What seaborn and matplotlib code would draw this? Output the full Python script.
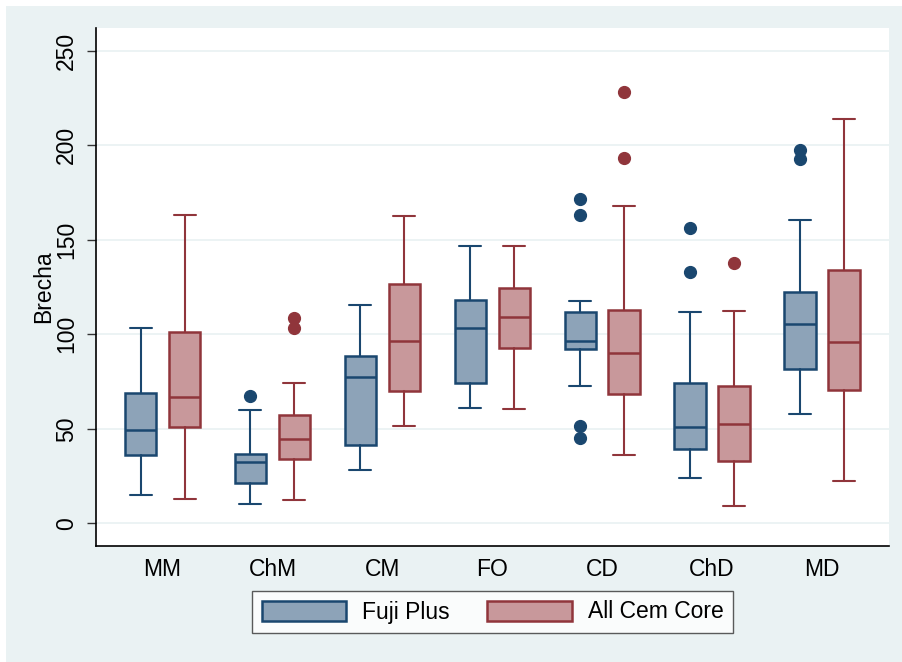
import matplotlib
matplotlib.use("Agg")
import matplotlib.pyplot as plt
import matplotlib.patches as mpatches
import seaborn as sns
import numpy as np

categories = ["MM", "ChM", "CM", "FO", "CD", "ChD", "MD"]
series_names = ["Fuji Plus", "All Cem Core"]

fuji_lo = [14.9, 10.3, 28.3, 60.9, 72.9, 24.1, 57.6]
fuji_q1 = [36.1, 21.3, 41.7, 74.5, 92.3, 39.4, 81.4]
fuji_med = [49.5, 32.2, 77.2, 103.6, 96.7, 51.1, 105.4]
fuji_q3 = [68.7, 36.8, 88.8, 118.4, 111.9, 74.3, 122.5]
fuji_hi = [103.6, 59.9, 115.4, 146.8, 117.4, 111.9, 160.7]
fuji_out = [[], [67.5], [], [], [171.5, 163.2, 51.6, 45.4], [156.3, 133.1], [197.3, 192.7]]

acc_lo = [12.8, 12.1, 51.4, 60.4, 35.9, 9.1, 22.3]
acc_q1 = [51.1, 34.1, 70.1, 93.0, 68.4, 32.9, 70.8]
acc_med = [66.8, 44.4, 96.4, 109.3, 90.1, 52.6, 96.2]
acc_q3 = [101.3, 57.4, 126.7, 124.6, 113.1, 72.9, 134.0]
acc_hi = [163.2, 74.0, 162.5, 147.0, 168.0, 112.6, 213.9]
acc_out = [[], [108.6, 103.3], [], [], [228.1, 193.5], [138.0], []]

y_ticks = [0, 50, 100, 150, 200, 250]

sns.set_theme(style="white")
plt.rcParams["font.family"] = ["Liberation Sans", "DejaVu Sans"]
plt.rcParams["text.color"] = "black"
plt.rcParams["axes.labelcolor"] = "black"
plt.rcParams["xtick.color"] = "black"
plt.rcParams["ytick.color"] = "black"

BG = "#EAF2F3"
fills = ["#8DA3B8", "#C8989B"]
edges = ["#1A476F", "#90353B"]
FS = 16.5

fig = plt.figure(figsize=(9.02, 6.62), dpi=100, facecolor="white")
fig.patches.append(mpatches.Rectangle((6 / 902, 0), 1, 656 / 662, transform=fig.transFigure,
                                      facecolor=BG, edgecolor="none", zorder=-10))
ax = fig.add_axes([95.5 / 902, 1 - 546 / 662, (889 - 95.5) / 902, (546 - 28) / 662])
ax.set_facecolor("white")

def make_stats(lo, q1, med, q3, hi, out):
    return [dict(whislo=a, q1=b, med=c, q3=d, whishi=e, fliers=f)
            for a, b, c, d, e, f in zip(lo, q1, med, q3, hi, out)]

groups = [make_stats(fuji_lo, fuji_q1, fuji_med, fuji_q3, fuji_hi, fuji_out),
          make_stats(acc_lo, acc_q1, acc_med, acc_q3, acc_hi, acc_out)]
offsets = [-0.2, 0.2]
x = np.arange(len(categories))

for stats, off, fc, ec in zip(groups, offsets, fills, edges):
    ax.bxp(stats, positions=x + off, widths=0.285, patch_artist=True, showfliers=True,
           capwidths=0.2,
           boxprops=dict(facecolor=fc, edgecolor=ec, linewidth=1.8),
           medianprops=dict(color=ec, linewidth=1.8),
           whiskerprops=dict(color=ec, linewidth=1.5),
           capprops=dict(color=ec, linewidth=1.5),
           flierprops=dict(marker="o", markerfacecolor=ec, markeredgecolor=ec, markersize=8.5),
           zorder=3)

ax.set_xlim(-0.61, 6.61)
ax.set_ylim(-12.0, 262.1)
ax.set_yticks(y_ticks)
ax.set_yticklabels([str(t) for t in y_ticks], rotation=90, va="center")
ax.set_xticks(x)
ax.set_xticklabels(categories)
ax.grid(axis="y", color=BG, linewidth=1.3, zorder=0)
ax.set_axisbelow(True)
for s in ["top", "right"]:
    ax.spines[s].set_visible(False)
for s in ["left", "bottom"]:
    ax.spines[s].set_color("black")
    ax.spines[s].set_linewidth(1.2)
ax.tick_params(axis="y", length=6.5, width=1.0, color="#333333", pad=6, labelsize=FS, left=True)
ax.tick_params(axis="x", length=0, pad=9, labelsize=FS)
ax.set_ylabel("Brecha", fontsize=FS, labelpad=0)

handles = [mpatches.Patch(facecolor=fc, edgecolor=ec, linewidth=1.8, label=n)
           for n, fc, ec in zip(series_names, fills, edges)]
leg = fig.legend(handles=handles, loc="center", bbox_to_anchor=(492.5 / 902, 1 - 612 / 662),
                 ncol=2, fontsize=FS, frameon=True, fancybox=False, handlelength=3.7,
                 handleheight=0.95, handletextpad=0.7, columnspacing=1.6, borderpad=0.4)
leg.get_frame().set_edgecolor("#333333")
leg.get_frame().set_linewidth(1.0)
leg.get_frame().set_facecolor("white")

fig.savefig("out.png", dpi=100, facecolor=fig.get_facecolor())
